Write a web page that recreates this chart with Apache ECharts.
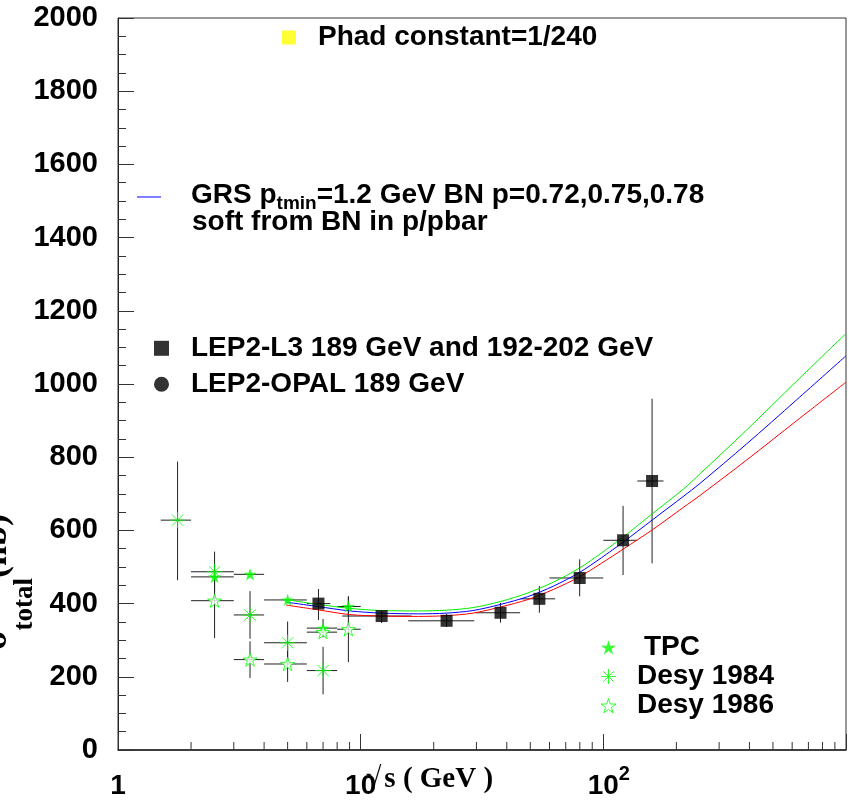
<!DOCTYPE html>
<html><head><meta charset="utf-8">
<script src="https://cdn.jsdelivr.net/npm/echarts@6/dist/echarts.min.js"></script>
<style>html,body{margin:0;padding:0;background:#fff}#c{width:849px;height:803px}</style>
</head><body><div id="c"></div>
<script>
// ---------------- data ----------------
// rows: [x, y, xLow, xHigh, yLow, yHigh]
const tpc = [
  [2.5, 473, 2.0, 3.0, 473, 473],
  [3.5, 480, 3.0, 4.0, 480, 480],
  [5.0, 410, 4.0, 6.0, 410, 410],
  [7.0, 333, 6.0, 8.0, 308, 358],
  [8.9, 392, 8.0, 10.0, 365, 419]
];
const desy1984 = [
  [1.76, 628, 1.5, 2.0, 464, 788],
  [2.5, 487, 2.0, 3.0, 432, 542],
  [3.5, 369, 3.0, 4.0, 304, 434],
  [5.0, 293, 4.0, 6.0, 235, 351],
  [7.0, 217, 6.0, 8.0, 152, 282]
];
const desy1986 = [
  [2.5, 408, 2.0, 3.0, 306, 510],
  [3.5, 247, 3.0, 4.0, 197, 297],
  [5.0, 235, 4.0, 6.0, 186, 284],
  [7.0, 322, 6.0, 8.0, 322, 322],
  [8.9, 330, 8.0, 10.0, 240, 420]
];
const l3 = [
  [6.7, 400, 6.0, 7.5, 355, 440],
  [12.2, 366, 8.4, 16.2, 347, 382],
  [22.6, 353, 15.7, 29.4, 336, 372],
  [37.7, 375, 29.7, 45.4, 348, 402],
  [54.5, 413, 45.6, 63.3, 375, 448],
  [79.9, 470, 60.0, 100, 420, 521],
  [120.6, 573, 100, 138, 478, 667],
  [158.8, 735, 138, 177, 510, 960]
];
const opal = [];
const curveX   = [4.93, 6.66, 9.01, 12.2, 17.3, 22.5, 29.0, 37.8, 48.8, 62.4, 79.7, 98.1, 120.8, 158.8, 214.8, 249.7, 389, 624, 1000];
const grsGreen = [411, 398, 387, 381, 380, 382, 389, 406, 429, 459, 497, 538, 582, 645, 714, 754, 874, 1007, 1138];
const grsBlue  = [404, 392, 380, 374, 372, 374, 381, 398, 419, 448, 485, 525, 568, 628, 694, 728, 836, 956, 1077];
const grsRed   = [396, 383, 370, 366, 365, 367, 374, 391, 411, 439, 473, 510, 549, 601, 664, 695, 792, 899, 1005];
const xMinorTicks = [2,3,4,5,6,7,8,9,20,30,40,50,60,70,80,90,200,300,400,500,600,700,800,900];
const yTicks = {min: 0, max: 2000, interval: 200};

// ---------------- styles ----------------
const SANS = '"Liberation Sans", Arial, Helvetica, sans-serif';
const SERIF = '"Liberation Serif", "Times New Roman", Times, serif';
const GREEN = '#00ff00';
const STAR = 'path://M50 0 L61.17 34.63 L97.55 34.55 L68.07 55.87 L79.39 90.45 L50 69 L20.61 90.45 L31.93 55.87 L2.45 34.55 L38.83 34.63 Z';
const ASTER = 'path://M0 50 L100 50 M50 0 L50 100 M15 15 L85 85 M85 15 L15 85';
// legend line icon: thin bar placed low in a 17px-high box (tiny invisible anchors at top and bottom)
const LOWLINE = 'path://M0 0 L0.01 0 L0.01 0.01 Z M0 13 L100 13 L100 14 L0 14 Z M0 16.99 L0.01 16.99 L0.01 17 Z';
const B = (size, extra) => Object.assign({fontFamily: SANS, fontWeight: 'bold', fontSize: size, color: '#000'}, extra || {});

function errRender(params, api) {
  const x = api.value(0), y = api.value(1), xl = api.value(2), xh = api.value(3), yl = api.value(4), yh = api.value(5);
  const a = api.coord([xl, y]), b = api.coord([xh, y]);
  const st = {stroke: '#222', lineWidth: 1};
  const ch = [{type: 'line', shape: {x1: a[0], y1: a[1], x2: b[0], y2: b[1]}, style: st}];
  if (yh > yl) {
    const c = api.coord([x, yl]), d = api.coord([x, yh]);
    ch.push({type: 'line', shape: {x1: c[0], y1: c[1], x2: d[0], y2: d[1]}, style: st});
  }
  return {type: 'group', children: ch};
}
const errSeries = (rows) => ({type: 'custom', renderItem: errRender, data: rows, encode: {x: 0, y: 1}, z: 2, silent: true});
const pts = (rows) => rows.map(r => [r[0], r[1]]);
const curve = (vals) => curveX.map((x, i) => [x, vals[i]]);

const chart = echarts.init(document.getElementById('c'), null, {renderer: 'canvas'});
chart.setOption({
  animation: false,
  backgroundColor: '#fff',
  grid: {left: 118, top: 18, width: 732, height: 732, show: true, borderColor: '#333', borderWidth: 1, backgroundColor: 'transparent'},
  xAxis: {
    type: 'log', logBase: 10, min: 1, max: 1000,
    axisLine: {lineStyle: {color: '#222', width: 1.5}},
    axisTick: {inside: true, length: 16, lineStyle: {color: '#333'}},
    splitLine: {show: false},
    axisLabel: {
      margin: 14,
      formatter: function (v) {
        const e = Math.round(Math.log10(v));
        if (e === 0) return '{n|1}';
        if (e === 1) return '{n|10}';
        if (e === 2) return '{n2|10}{s|2}';
        return '';
      },
      rich: {
        n: B(28, {lineHeight: 44}),
        n2: B(28, {lineHeight: 44, padding: [0, 0, 0, 11]}),
        s: B(20, {lineHeight: 20, verticalAlign: 'top'})
      }
    }
  },
  yAxis: {
    type: 'value', min: yTicks.min, max: yTicks.max, interval: yTicks.interval,
    axisLine: {show: true, lineStyle: {color: '#222', width: 1}},
    axisTick: {inside: true, length: 16, lineStyle: {color: '#333'}},
    minorTick: {show: true, splitNumber: 4, length: 8, lineStyle: {color: '#333'}},
    splitLine: {show: false},
    axisLabel: B(29, {margin: 20, formatter: v => String(v)})
  },
  legend: [
    {
      data: [{name: 'Phad constant=1/240', icon: 'rect'}],
      left: 282, top: 23.5, padding: 0, itemWidth: 14, itemHeight: 14, selectedMode: false,
      formatter: n => '{t|' + n + '}',
      textStyle: {rich: {t: B(28, {lineHeight: 28, padding: [0, 0, 0, 17]})}}
    },
    {
      data: [{name: 'p=0.75', icon: LOWLINE}],
      left: 137, top: 181, padding: 0, itemWidth: 24, itemHeight: 17, symbolKeepAspect: false, selectedMode: false,
      formatter: () => '{m0|GRS p}{s|tmin}{m|=1.2 GeV BN p=0.72,0.75,0.78}',
      textStyle: {rich: {
        m0: B(28, {lineHeight: 22, verticalAlign: 'top', padding: [0, 0, 0, 25]}),
        s: B(19, {lineHeight: 19, verticalAlign: 'top', padding: [13.4, 0, 0, 0]}),
        m: B(28, {lineHeight: 22, verticalAlign: 'top'})
      }}
    },
    {
      data: ['LEP2-L3 189 GeV and 192-202 GeV', 'LEP2-OPAL 189 GeV'],
      orient: 'vertical', left: 154, top: 334.3, padding: 0, itemWidth: 15, itemHeight: 15, itemGap: 8, selectedMode: false,
      formatter: n => '{t|' + n + '}',
      textStyle: {rich: {t: B(28, {lineHeight: 28, padding: [0, 0, 0, 17]})}}
    },
    {
      data: [
        {name: 'TPC', icon: STAR, itemStyle: {color: GREEN, borderWidth: 0}},
        {name: 'Desy 1984', icon: ASTER, itemStyle: {color: 'none', borderColor: GREEN, borderWidth: 1}},
        {name: 'Desy 1986', icon: STAR, itemStyle: {color: '#fff', borderColor: GREEN, borderWidth: 1}}
      ],
      orient: 'vertical', left: 598.5, top: 633.3, padding: 0, itemWidth: 15, itemHeight: 15, itemGap: 1.2, selectedMode: false,
      formatter: n => n === 'TPC' ? '{p|' + n + '}' : '{t|' + n + '}',
      textStyle: {rich: {
        t: B(28, {lineHeight: 28, padding: [0, 0, 0, 16]}),
        p: B(28, {lineHeight: 28, padding: [0, 0, 0, 23]})
      }}
    }
  ],
  graphic: [
    {type: 'text', x: 192, y: 222, silent: true,
     style: {text: 'soft from BN in p/pbar', font: 'bold 28px ' + SANS, fill: '#000', align: 'left', verticalAlign: 'middle'}},
    {type: 'text', x: 366, y: 765, silent: true,
     style: {text: '{r|√}{t|s ( GeV )}', align: 'left', verticalAlign: 'top',
       rich: {
         r: {fontFamily: SERIF, fontSize: 28, fill: '#000', lineHeight: 28, verticalAlign: 'top', padding: [0, 3, 0, 0]},
         t: {fontFamily: SERIF, fontWeight: 'bold', fontSize: 29, fill: '#000', lineHeight: 46, verticalAlign: 'top'}
       }}},
    {type: 'text', x: -21, y: 582, rotation: Math.PI / 2, silent: true,
     style: {text: '{m|σ}{s|total}{m|(nb)}', align: 'center', verticalAlign: 'top',
       rich: {
         m: {fontFamily: SERIF, fontWeight: 'bold', fontSize: 36, fill: '#000', lineHeight: 36, verticalAlign: 'top'},
         s: {fontFamily: SERIF, fontWeight: 'bold', fontSize: 27, fill: '#000', lineHeight: 27, verticalAlign: 'top', padding: [33, 0, 0, 0]}
       }}}
  ],
  series: [
    {type: 'custom', name: 'minor x ticks', silent: true, z: 5, clip: false,
     data: xMinorTicks.map(v => [v, 0]), encode: {x: 0, y: 1},
     renderItem: function (p, api) {
       const c = api.coord([api.value(0), 0]);
       return {type: 'line', shape: {x1: c[0], y1: c[1], x2: c[0], y2: c[1] - 8}, style: {stroke: '#333', lineWidth: 1}};
     }},
    errSeries(tpc), errSeries(desy1984), errSeries(desy1986), errSeries(l3),
    {type: 'line', name: 'p=0.72', data: curve(grsGreen), smooth: 0.3, showSymbol: false, symbol: 'none', color: '#00ee00', lineStyle: {color: '#00ee00', width: 1}, z: 3, silent: true},
    {type: 'line', name: 'p=0.75', data: curve(grsBlue), smooth: 0.3, showSymbol: false, symbol: 'none', color: '#0000ff', lineStyle: {color: '#0000ff', width: 1}, z: 3, silent: true},
    {type: 'line', name: 'p=0.78', data: curve(grsRed), smooth: 0.3, showSymbol: false, symbol: 'none', color: '#ff0000', lineStyle: {color: '#ff0000', width: 1}, z: 3, silent: true},
    {type: 'scatter', name: 'Phad constant=1/240', data: [], symbol: 'rect', itemStyle: {color: '#ffff00'}},
    {type: 'scatter', name: 'LEP2-L3 189 GeV and 192-202 GeV', data: pts(l3), symbol: 'rect', symbolSize: 12, itemStyle: {color: '#000'}, z: 4},
    {type: 'scatter', name: 'LEP2-OPAL 189 GeV', data: opal, symbol: 'circle', symbolSize: 11, itemStyle: {color: '#000'}, z: 4},
    {type: 'scatter', name: 'TPC', data: pts(tpc), symbol: STAR, symbolKeepAspect: true, symbolSize: 13, itemStyle: {color: GREEN}, z: 4},
    {type: 'scatter', name: 'Desy 1984', data: pts(desy1984), symbol: ASTER, symbolSize: 16, itemStyle: {color: 'none', borderColor: GREEN, borderWidth: 1}, z: 4},
    {type: 'scatter', name: 'Desy 1986', data: pts(desy1986), symbol: STAR, symbolKeepAspect: true, symbolSize: 14, itemStyle: {color: '#fff', borderColor: GREEN, borderWidth: 1}, z: 4}
  ]
});
</script>
</body></html>
